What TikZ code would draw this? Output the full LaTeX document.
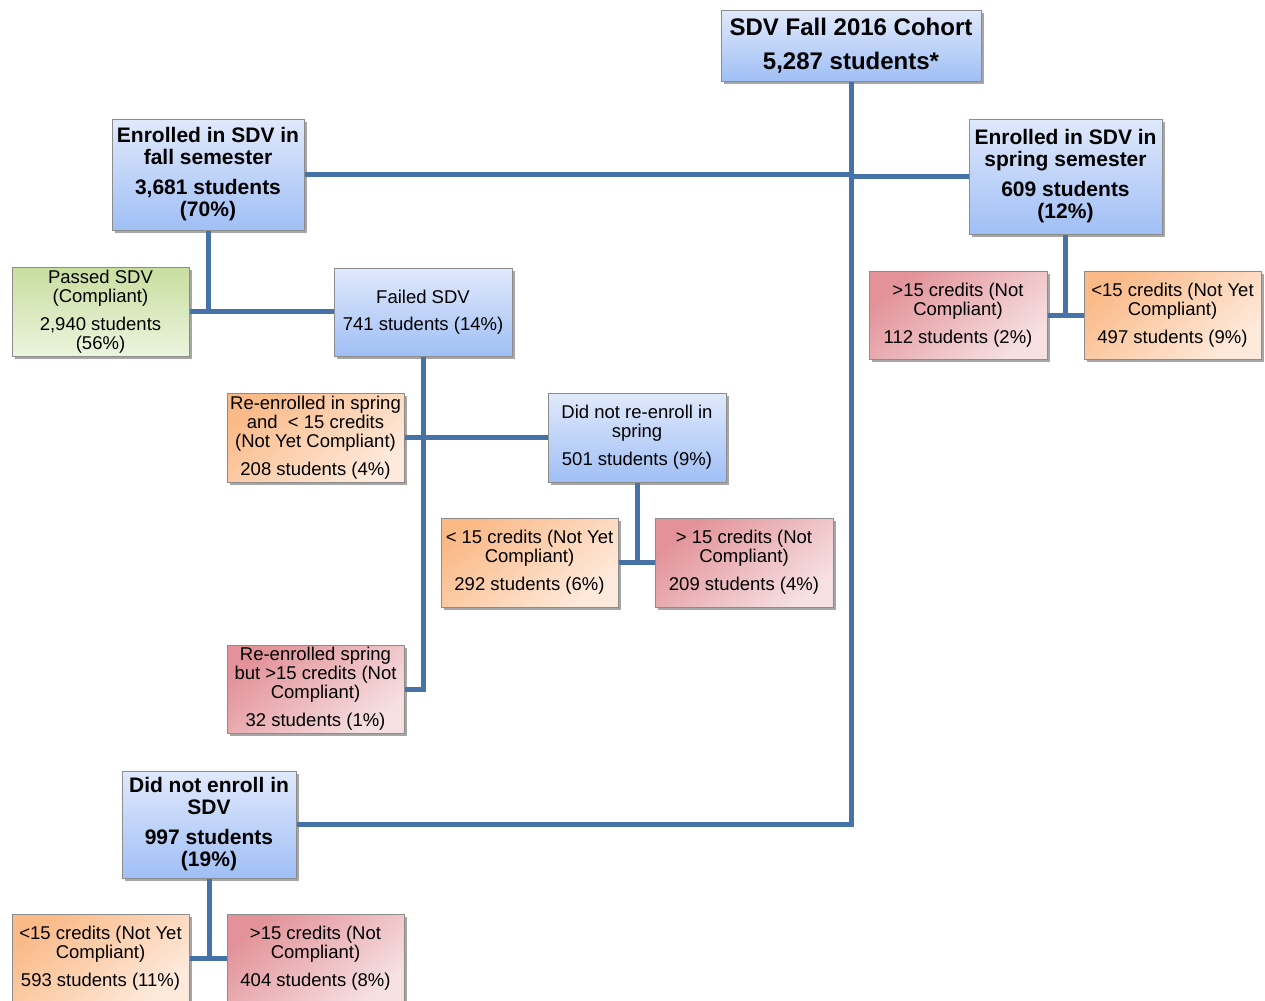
\documentclass[tikz,border=0pt]{standalone}
\usepackage{fontspec}
\setmainfont{Liberation Sans}
\usetikzlibrary{shadows}
\definecolor{connc}{RGB}{69,114,167}
\definecolor{boxline}{RGB}{140,140,140}
\definecolor{bluetop}{RGB}{224,233,252}
\definecolor{bluebot}{RGB}{160,191,245}
\definecolor{greentop}{RGB}{200,222,160}
\definecolor{greenbot}{RGB}{236,244,222}
\definecolor{orangetop}{RGB}{250,186,136}
\definecolor{orangebot}{RGB}{254,234,220}
\definecolor{redtop}{RGB}{226,146,152}
\definecolor{redbot}{RGB}{246,224,226}
\tikzset{
  base/.style={draw=boxline, line width=0.5pt, inner sep=0pt, align=center,
    drop shadow={shadow xshift=1.5pt, shadow yshift=-1.5pt, opacity=0.35, fill=black}},
  bluebox/.style={base, top color=bluetop, bottom color=bluebot},
  greenbox/.style={base, top color=greentop, bottom color=greenbot},
  orangebox/.style={base, top color=orangetop, bottom color=orangebot, shading angle=40},
  redbox/.style={base, top color=redtop, bottom color=redbot, shading angle=40},
  reg/.style={font=\fontsize{9.25}{9.5}\selectfont},
  bld/.style={font=\fontsize{10.5}{11}\selectfont\bfseries},
  hdr/.style={font=\fontsize{12}{12}\selectfont\bfseries},
  link/.style={draw=connc, line width=2.5pt},
  sz/.style 2 args={minimum width=#1*0.5pt, minimum height=#2*0.5pt}
}
\begin{document}
\begin{tikzpicture}[x=0.5pt, y=-0.5pt]
\useasboundingbox (0,0) rectangle (1265,1001);

\node[bluebox, hdr, sz={260}{71}] (cohort) at (851,45.5) {SDV Fall 2016 Cohort\\[5pt]5,287 students*};
\node[bluebox, bld, sz={192}{111}] (fall) at (208,174.5) {Enrolled in SDV in\\fall semester\\[4pt]3,681 students\\(70\%)};
\node[bluebox, bld, sz={193}{115}] (spring) at (1065.5,176.5) {Enrolled in SDV in\\spring semester\\[4pt]609 students\\(12\%)};
\node[greenbox, reg, sz={177}{89}] (passed) at (100.5,311.5) {Passed SDV\\(Compliant)\\[4.5pt]2,940 students\\(56\%)};
\node[bluebox, reg, sz={178}{88}] (failed) at (423,312) {Failed SDV\\[4pt]741 students (14\%)};
\node[redbox, reg, sz={178}{88}] (sphi) at (958,315) {>15 credits (Not\\Compliant)\\[4.5pt]112 students (2\%)};
\node[orangebox, reg, sz={177}{88}] (splo) at (1172.5,315) {<15 credits (Not Yet\\Compliant)\\[4.5pt]497 students (9\%)};
\node[orangebox, reg, sz={177}{89}] (reenlo) at (315.5,437.5) {Re-enrolled in spring\\and\ \ < 15 credits\\(Not Yet Compliant)\\[4.5pt]208 students (4\%)};
\node[bluebox, reg, sz={178}{89}] (didnot) at (637,437.5) {Did not re-enroll in\\spring\\[4.5pt]501 students (9\%)};
\node[orangebox, reg, sz={177}{89}] (c292) at (529.5,562.5) {< 15 credits (Not Yet\\Compliant)\\[4.5pt]292 students (6\%)};
\node[redbox, reg, sz={178}{89}] (c209) at (744,562.5) {> 15 credits (Not\\Compliant)\\[4.5pt]209 students (4\%)};
\node[redbox, reg, sz={177}{88}] (reenhi) at (315.5,689) {Re-enrolled spring\\but >15 credits (Not\\Compliant)\\[4.5pt]32 students (1\%)};
\node[bluebox, bld, sz={174}{107}] (notenroll) at (209,824.5) {Did not enroll in\\SDV\\[4pt]997 students\\(19\%)};
\node[orangebox, reg, sz={177}{89}] (c593) at (100.5,958.5) {<15 credits (Not Yet\\Compliant)\\[4.5pt]593 students (11\%)};
\node[redbox, reg, sz={177}{89}] (c404) at (315.5,958.5) {>15 credits (Not\\Compliant)\\[4.5pt]404 students (8\%)};

\draw[link] (cohort.south) -- (cohort.south |- notenroll.east) -- (notenroll.east);
\draw[link] (fall.east) -- (fall.east -| cohort.south);
\draw[link] (spring.west) -- (spring.west -| cohort.south);
\draw[link] (fall.south) -- (fall.south |- passed.east);
\draw[link] (passed.east) -- (passed.east -| failed.west);
\draw[link] (failed.south) -- (failed.south |- reenhi.east) -- (reenhi.east);
\draw[link] (reenlo.east) -- (reenlo.east -| didnot.west);
\draw[link] (didnot.south) -- (didnot.south |- c292.east);
\draw[link] (c292.east) -- (c209.west);
\draw[link] (spring.south) -- (spring.south |- sphi.east);
\draw[link] (sphi.east) -- (splo.west);
\draw[link] (notenroll.south) -- (notenroll.south |- c593.east);
\draw[link] (c593.east) -- (c404.west);
\end{tikzpicture}
\end{document}
